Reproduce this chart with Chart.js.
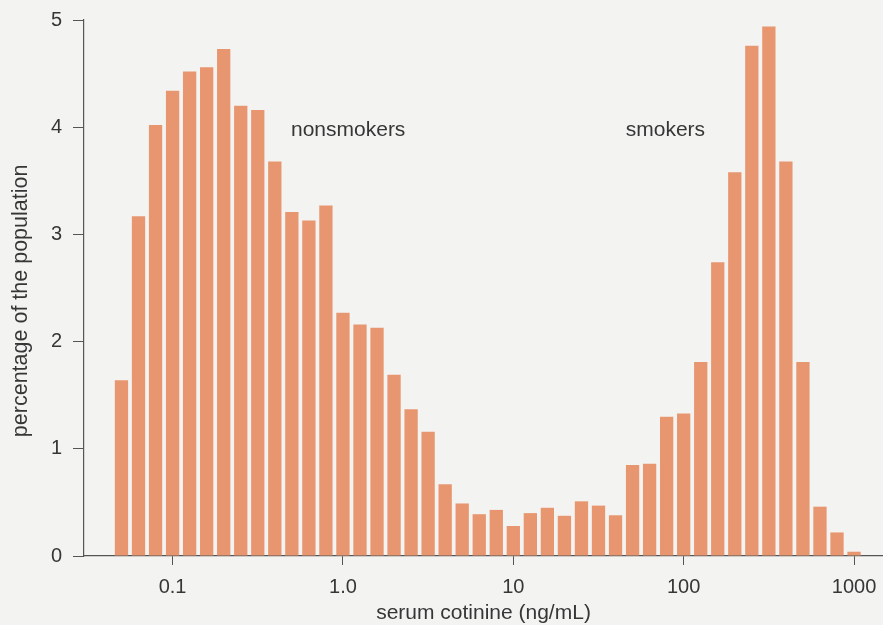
<!DOCTYPE html>
<html>
<head>
<meta charset="utf-8">
<script src="https://cdn.jsdelivr.net/npm/chart.js@4"></script>
<style>
  body { margin: 0; background: #f3f3f1; }
  canvas { display: block; }
</style>
</head>
<body>
<canvas id="myChart" width="883" height="625"></canvas>
<script>
// bin centres, as log10 of serum cotinine (ng/mL)
var binLog = [-1.3, -1.2, -1.1, -1.0, -0.9, -0.8, -0.7, -0.6, -0.5, -0.4,
              -0.3, -0.2, -0.1, 0.0, 0.1, 0.2, 0.3, 0.4, 0.5, 0.6,
              0.7, 0.8, 0.9, 1.0, 1.1, 1.2, 1.3, 1.4, 1.5, 1.6,
              1.7, 1.8, 1.9, 2.0, 2.1, 2.2, 2.3, 2.4, 2.5, 2.6,
              2.7, 2.8, 2.9, 3.0];

// percentage of the population in each bin
var percent = [1.64, 3.17, 4.02, 4.34, 4.52, 4.56, 4.73, 4.20, 4.16, 3.68,
               3.21, 3.13, 3.27, 2.27, 2.16, 2.13, 1.69, 1.37, 1.16, 0.67,
               0.49, 0.39, 0.43, 0.28, 0.40, 0.45, 0.375, 0.51, 0.47, 0.38,
               0.85, 0.86, 1.30, 1.33, 1.81, 2.74, 3.58, 4.76, 4.94, 3.68,
               1.81, 0.46, 0.22, 0.04];

var xTickValues = [-1, 0, 1, 2, 3];
var xTickLabels = ['0.1', '1.0', '10', '100', '1000'];

var groupLabels = [
    { text: 'nonsmokers', x: -0.305, y: 3.97 },
    { text: 'smokers', x: 1.66, y: 3.97 }
];
var yTitle = 'percentage of the population';

var textColor = '#363636';
var axisColor = '#555555';
var family = '"Liberation Sans", Arial, sans-serif';
var tickFont = { family: family, size: 20 };
var titleFont = { family: family, size: 21, lineHeight: 1.0 };

var points = binLog.map(function (v, i) {
    return { x: v, y: percent[i] };
});

// text labels inside the plot, plus the y title (sits a bit below the axis middle)
var textPlugin = {
    id: 'textLabels',
    afterDatasetsDraw: function (chart) {
        var c = chart.ctx;
        var xs = chart.scales.x;
        var ys = chart.scales.y;
        c.save();
        c.fillStyle = textColor;
        c.font = '21px ' + family;
        c.textAlign = 'left';
        c.textBaseline = 'middle';
        groupLabels.forEach(function (g) {
            c.fillText(g.text, xs.getPixelForValue(g.x), ys.getPixelForValue(g.y));
        });
        c.font = '21.5px ' + family;
        c.textAlign = 'center';
        c.translate(21.5, ys.getPixelForValue(2.38));
        c.rotate(-Math.PI / 2);
        c.fillText(yTitle, 0, 0);
        c.restore();
    }
};

var ctx = document.getElementById('myChart');

new Chart(ctx, {
    type: 'bar',
    data: {
        datasets: [{
            data: points,
            backgroundColor: '#e8966f',
            borderWidth: 0,
            barPercentage: 0.78,
            categoryPercentage: 1.0
        }]
    },
    options: {
        responsive: false,
        animation: false,
        layout: { padding: { top: 20, right: 0, left: 0, bottom: 0 } },
        plugins: {
            legend: { display: false },
            tooltip: { enabled: false }
        },
        scales: {
            x: {
                type: 'linear',
                min: -1.52,
                max: 3.17,
                offset: false,
                afterBuildTicks: function (scale) {
                    scale.ticks = xTickValues.map(function (v) { return { value: v }; });
                },
                afterFit: function (scale) {
                    scale.height = 69;
                    scale.paddingLeft = 0;
                    scale.paddingRight = 0;
                },
                grid: { offset: false, drawOnChartArea: false, drawTicks: true, tickLength: 9, color: axisColor },
                border: { color: axisColor, width: 1.2 },
                ticks: {
                    autoSkip: false,
                    maxRotation: 0,
                    padding: 10,
                    color: textColor,
                    font: tickFont,
                    callback: function (value, index) { return xTickLabels[index]; }
                },
                title: {
                    display: true,
                    text: 'serum cotinine (ng/mL)',
                    color: textColor,
                    font: titleFont,
                    padding: { top: 0, bottom: 1 }
                }
            },
            y: {
                min: 0,
                max: 5,
                afterFit: function (scale) {
                    scale.width = 84;
                    scale.paddingTop = 0;
                    scale.paddingBottom = 0;
                },
                grid: { drawOnChartArea: false, drawTicks: true, tickLength: 11, color: axisColor },
                border: { color: axisColor, width: 1.2 },
                ticks: {
                    stepSize: 1,
                    padding: 11,
                    color: textColor,
                    font: tickFont
                }
            }
        }
    },
    plugins: [textPlugin]
});
</script>
</body>
</html>
